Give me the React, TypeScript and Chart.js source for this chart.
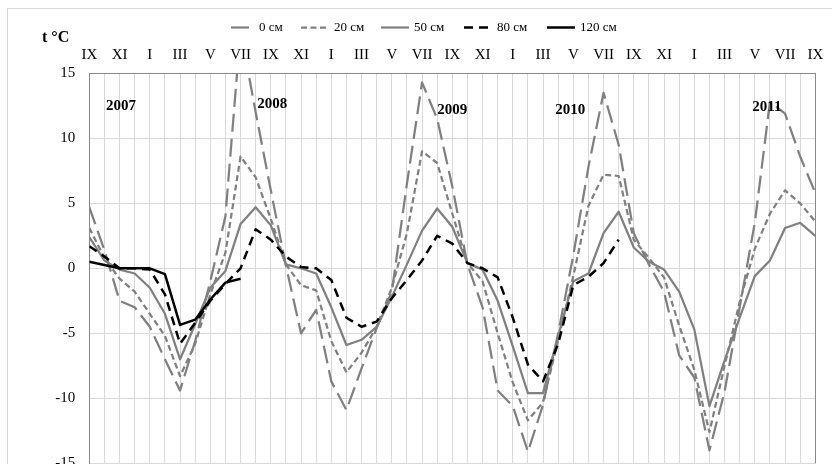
import React, { useEffect, useRef } from 'react';
import { Chart, registerables } from 'chart.js';

Chart.register(...registerables);

// Months from September 2007 to September 2011 (Roman numerals)
const months = [
  'IX', 'X', 'XI', 'XII', 'I', 'II', 'III', 'IV', 'V', 'VI', 'VII', 'VIII',
  'IX', 'X', 'XI', 'XII', 'I', 'II', 'III', 'IV', 'V', 'VI', 'VII', 'VIII',
  'IX', 'X', 'XI', 'XII', 'I', 'II', 'III', 'IV', 'V', 'VI', 'VII', 'VIII',
  'IX', 'X', 'XI', 'XII', 'I', 'II', 'III', 'IV', 'V', 'VI', 'VII', 'VIII',
  'IX',
];

const depthNames = ['0 см', '20 см', '50 см', '80 см', '120 см'];

const t0cm = [
  4.7, 1.4, -2.5, -3.0, -4.5, -7.0, -9.4, -5.6, -1.0, 4.0, 18.3, 12.0,
  6.0, 0.2, -5.0, -3.2, -8.7, -10.9, -7.7, -4.6, -1.8, 6.5, 14.3, 11.5,
  6.3, 0.3, -3.0, -9.4, -10.6, -14.1, -10.5, -5.0, 1.0, 7.8, 13.5, 9.5,
  2.7, 0.3, -1.8, -6.7, -8.4, -14.0, -9.5, -3.0, 3.5, 12.8, 11.9, 8.6,
  5.8,
];

const t20cm = [
  3.1, 0.8, -0.8, -1.8, -3.5, -5.2, -8.3, -5.8, -2.0, 1.2, 8.6, 7.0,
  3.8, 0.3, -1.3, -1.7, -5.6, -8.0, -6.5, -4.5, -1.5, 2.7, 9.0, 8.1,
  4.2, 0.4, -1.0, -5.0, -8.8, -11.7, -10.3, -5.5, -0.6, 4.8, 7.2, 7.1,
  2.2, 0.8, -0.7, -4.4, -7.8, -12.6, -7.5, -2.6, 1.5, 4.2, 6.0, 5.0,
  3.6,
];

const t50cm = [
  2.4, 0.6, -0.1, -0.4, -1.5, -3.5, -7.0, -4.3, -1.5, -0.2, 3.4, 4.7,
  3.3, 0.3, 0.0, -0.4, -3.0, -5.9, -5.5, -4.5, -2.2, 0.3, 2.9, 4.6,
  3.2, 0.4, -0.1, -2.5, -6.0, -9.6, -9.6, -5.2, -1.0, -0.4, 2.7, 4.35,
  1.6, 0.5, -0.1, -1.8, -4.7, -10.6, -7.1, -3.8, -0.6, 0.6, 3.1, 3.5,
  2.5,
];

const t80cm = [
  1.7, 0.9, 0.0, 0.0, -0.1, -2.0, -5.8, -4.2, -2.5, -1.2, 0.0, 3.0,
  2.2, 0.9, 0.1, 0.0, -0.9, -3.8, -4.5, -4.1, -2.3, -0.9, 0.6, 2.5,
  1.9, 0.4, 0.0, -0.7, -3.8, -7.4, -8.7, -5.8, -1.3, -0.65, 0.4, 2.2,
  null, null, null, null, null, null, null, null, null, null, null, null,
  null,
];

const t120cm = [
  0.5, 0.25, 0.0, 0.0, 0.0, -0.45, -4.35, -3.95, -2.4, -1.1, -0.8, null,
  null, null, null, null, null, null, null, null, null, null, null, null,
  null, null, null, null, null, null, null, null, null, null, null, null,
  null, null, null, null, null, null, null, null, null, null, null, null,
  null,
];

const series = [t0cm, t20cm, t50cm, t80cm, t120cm];

// Year annotations: text, month index, temperature
const yearNames = ['2007', '2008', '2009', '2010', '2011'];
const yearAt = [2.1, 12.1, 24.0, 31.8, 44.8];
const yearTemp = [12.5, 12.6, 12.2, 12.2, 12.4];

const yMin = -15;
const yMax = 15;
const yStep = 5;

const FONT = "'Liberation Serif', 'Times New Roman', serif";

const lineStyles = [
  { color: '#808080', width: 2.25, dash: [18, 7] },
  { color: '#808080', width: 2.25, dash: [6, 3.5] },
  { color: '#808080', width: 2.25, dash: [] as number[] },
  { color: '#000000', width: 2.5, dash: [9, 6] },
  { color: '#000000', width: 2.5, dash: [] as number[] },
];

const legendTextX = [259, 334, 414, 497, 580];

const framePlugin = {
  id: 'frame',
  beforeDraw(chart: any) {
    const ctx = chart.ctx;
    ctx.save();
    ctx.fillStyle = '#ffffff';
    ctx.fillRect(0, 0, chart.width, chart.height);
    ctx.strokeStyle = '#d9d9d9';
    ctx.lineWidth = 1;
    ctx.strokeRect(7.5, 8.5, chart.width + 20, chart.height + 20);
    ctx.restore();
  },
  afterDraw(chart: any) {
    const ctx = chart.ctx;
    const a = chart.chartArea;
    ctx.save();
    ctx.strokeStyle = '#898989';
    ctx.lineWidth = 1;
    const xr = Math.round(a.right) + 0.5;
    ctx.beginPath();
    ctx.moveTo(xr, a.top);
    ctx.lineTo(xr, a.bottom);
    ctx.stroke();

    // axis title
    ctx.fillStyle = '#000';
    ctx.font = `bold 16px ${FONT}`;
    ctx.textAlign = 'left';
    ctx.textBaseline = 'middle';
    ctx.fillText('t °C', 42, 38);

    // legend
    ctx.font = `13px ${FONT}`;
    chart.data.datasets.forEach((ds: any, i: number) => {
      const tx = legendTextX[i];
      const st = lineStyles[i];
      const y = 27.5;
      ctx.save();
      ctx.strokeStyle = st.color;
      ctx.lineWidth = st.width;
      ctx.setLineDash(st.dash);
      ctx.lineDashOffset = i === 0 ? 20 : 0;
      ctx.beginPath();
      ctx.moveTo(tx - 33, y);
      ctx.lineTo(tx - 5, y);
      ctx.stroke();
      ctx.restore();
      ctx.fillStyle = '#000';
      ctx.fillText(ds.label, tx, y);
    });
    ctx.restore();
  },
};

const yearPlugin = {
  id: 'years',
  afterDatasetsDraw(chart: any) {
    const ctx = chart.ctx;
    const xs = chart.scales.x;
    const ys = chart.scales.y;
    ctx.save();
    ctx.fillStyle = '#000';
    ctx.font = `bold 15px ${FONT}`;
    ctx.textAlign = 'center';
    ctx.textBaseline = 'middle';
    yearNames.forEach((name, i) => {
      ctx.fillText(name, xs.getPixelForValue(yearAt[i]), ys.getPixelForValue(yearTemp[i]));
    });
    ctx.restore();
  },
};

export default function App() {
  const ref = useRef<HTMLCanvasElement | null>(null);

  useEffect(() => {
    if (!ref.current) return;
    const chart = new Chart(ref.current, {
      type: 'line',
      data: {
        labels: months,
        datasets: series.map((vals, i) => ({
          label: depthNames[i],
          data: vals,
          borderColor: lineStyles[i].color,
          backgroundColor: lineStyles[i].color,
          borderWidth: lineStyles[i].width,
          borderDash: lineStyles[i].dash,
          borderJoinStyle: 'round' as const,
          pointRadius: 0,
          pointHoverRadius: 0,
          tension: 0,
          fill: false,
          spanGaps: false,
          order: 4 - i,
          clip: 0,
        })),
      },
      options: {
        responsive: false,
        animation: false,
        events: [],
        layout: { padding: { left: 0, top: 0, right: 16.7, bottom: 16.7 } },
        plugins: {
          legend: { display: false },
          tooltip: { enabled: false },
          title: { display: false },
        },
        scales: {
          x: {
            type: 'category',
            position: 'top',
            offset: false,
            afterFit: (s: any) => {
              s.height = 73.3;
              s.paddingLeft = 0;
              s.paddingRight = 0;
            },
            grid: { color: '#d9d9d9', lineWidth: 1, drawTicks: false },
            border: { display: true, color: '#898989', width: 1 },
            ticks: {
              autoSkip: false,
              maxRotation: 0,
              minRotation: 0,
              padding: 9,
              color: '#000',
              font: { family: FONT, size: 15 },
              callback: function (this: any, value: any, index: number) {
                return index % 2 === 0 ? this.getLabelForValue(value) : '';
              },
            },
          },
          y: {
            type: 'linear',
            min: yMin,
            max: yMax,
            afterFit: (s: any) => {
              s.width = 89.3;
              s.paddingTop = 0;
              s.paddingBottom = 0;
            },
            grid: { color: '#d9d9d9', lineWidth: 1, drawTicks: false },
            border: { display: true, color: '#898989', width: 1 },
            ticks: {
              stepSize: yStep,
              padding: 14,
              color: '#000',
              font: { family: FONT, size: 15 },
              callback: (v: any) => String(v),
            },
          },
        },
      },
      plugins: [framePlugin, yearPlugin],
    });
    return () => chart.destroy();
  }, []);

  return (
    <div
      style={{
        position: 'fixed',
        left: 0,
        top: 0,
        width: 832,
        height: 464,
        overflow: 'hidden',
        background: '#fff',
      }}
    >
      <canvas
        ref={ref}
        width={832}
        height={480}
        style={{ display: 'block', width: 832, height: 480 }}
      />
    </div>
  );
}
